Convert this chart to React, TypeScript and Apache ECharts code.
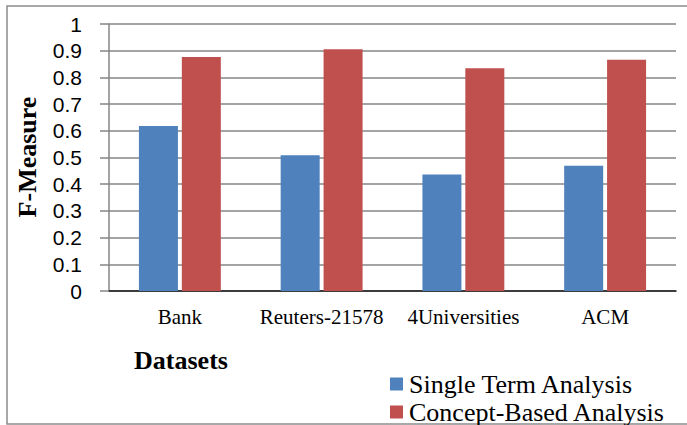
import React, { useEffect, useRef } from "react";
import * as echarts from "echarts";

const categories = ["Bank", "Reuters-21578", "4Universities", "ACM"];
const singleTerm = [0.618, 0.508, 0.436, 0.469];
const conceptBased = [0.876, 0.905, 0.834, 0.866];
const seriesNames = ["Single Term Analysis", "Concept-Based Analysis"];
const yTicks = [0, 0.1, 0.2, 0.3, 0.4, 0.5, 0.6, 0.7, 0.8, 0.9, 1];

export default function App() {
  const ref = useRef<HTMLDivElement>(null);
  useEffect(() => {
    if (!ref.current) return;
    const chart = echarts.init(ref.current, undefined, { renderer: "svg" });
    const serif = "'Liberation Serif', 'Times New Roman', serif";
    const sans = "'Liberation Sans', 'Open Sans', sans-serif";
    chart.setOption({
      animation: false,
      backgroundColor: "#ffffff",
      grid: { left: 109, right: 11, top: 24, bottom: 134, containLabel: false },
      xAxis: {
        type: "category",
        data: categories,
        axisLine: { lineStyle: { color: "#1a1a1a", width: 1.5 } },
        axisTick: { show: false },
        axisLabel: { fontFamily: serif, fontSize: 21, color: "#000", margin: 15, interval: 0 },
      },
      yAxis: {
        type: "value",
        min: 0,
        max: 1,
        interval: 0.1,
        axisLine: { show: true, lineStyle: { color: "#868686", width: 1.5 } },
        axisTick: { show: true, inside: false, length: 9, lineStyle: { color: "#868686", width: 1.5 } },
        splitLine: { show: true, lineStyle: { color: "#868686", width: 1.5 } },
        axisLabel: {
          fontFamily: sans,
          fontSize: 21,
          color: "#000",
          margin: 27,
          formatter: (v: number) => {
            const t = yTicks.find((x) => Math.abs(x - v) < 1e-6);
            return t === undefined ? "" : String(Math.round(t * 10) / 10);
          },
        },
      },
      legend: {
        orient: "vertical",
        left: 390,
        top: 371,
        itemWidth: 13,
        itemHeight: 13,
        itemGap: 2,
        icon: "rect",
        data: seriesNames,
        textStyle: { fontFamily: serif, fontSize: 26, color: "#000", lineHeight: 21, padding: [0, 0, 0, 1] },
        padding: 0,
      },
      series: [
        {
          name: seriesNames[0],
          type: "bar",
          data: singleTerm,
          barWidth: 39,
          barGap: "10%",
          itemStyle: { color: "#4F81BD" },
        },
        {
          name: seriesNames[1],
          type: "bar",
          data: conceptBased,
          barWidth: 39,
          barGap: "10%",
          itemStyle: { color: "#C0504D" },
        },
      ],
      graphic: [
        {
          type: "rect",
          shape: { x: 7, y: 6, width: 700, height: 418 },
          style: { fill: "none", stroke: "#8c8c8c", lineWidth: 1.5 },
          z: -1,
        },
        {
          type: "text",
          x: 27,
          y: 157,
          rotation: Math.PI / 2,
          style: {
            text: "F-Measure",
            fontFamily: serif,
            fontSize: 26,
            fontWeight: "bold",
            fill: "#000",
            align: "center",
            verticalAlign: "middle",
          },
        },
        {
          type: "text",
          x: 181,
          y: 360,
          style: {
            text: "Datasets",
            fontFamily: serif,
            fontSize: 26,
            fontWeight: "bold",
            fill: "#000",
            align: "center",
            verticalAlign: "middle",
          },
        },
      ],
    });
    return () => chart.dispose();
  }, []);
  return (
    <div
      ref={ref}
      style={{ position: "fixed", left: 0, top: 0, width: 687, height: 425 }}
    />
  );
}
